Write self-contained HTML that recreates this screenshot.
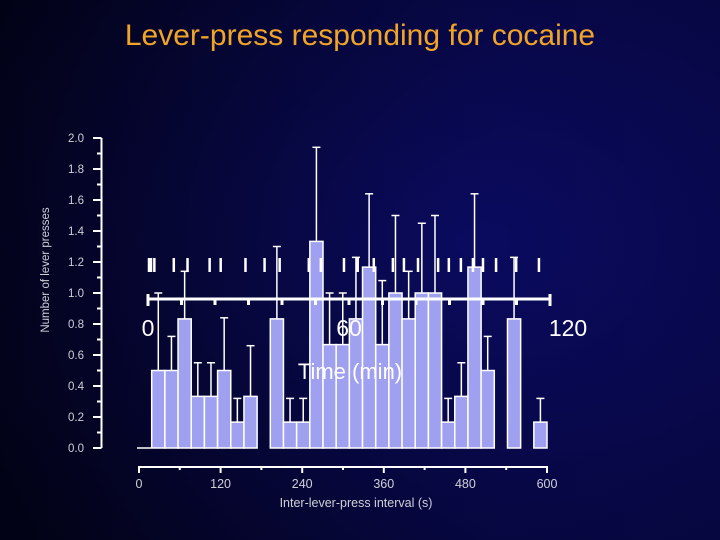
<!DOCTYPE html>
<html><head><meta charset="utf-8"><style>
html,body{margin:0;padding:0;width:720px;height:540px;overflow:hidden}
body{background:linear-gradient(90deg,#04041a 0%,#070738 35%,#0a0a5a 70%,#0b0b62 100%);font-family:"Liberation Sans",sans-serif}
</style></head><body>
<svg id="chart" width="720" height="540" xmlns="http://www.w3.org/2000/svg" style="position:absolute;left:0;top:0">
<defs><radialGradient id="vg" cx="0.65" cy="0.45" r="0.8"><stop offset="0" stop-color="#0b0b66" stop-opacity="0.6"/><stop offset="1" stop-color="#000010" stop-opacity="0.5"/></radialGradient></defs>
<rect width="720" height="540" fill="url(#vg)"/>
<text x="360" y="45" text-anchor="middle" font-size="30" fill="#f0a428">Lever-press responding for cocaine</text>
<text transform="translate(49,270) rotate(-90)" text-anchor="middle" font-size="11.5" fill="#d0d0d8">Number of lever presses</text>
<text x="356" y="507" text-anchor="middle" font-size="12.5" fill="#d0d0d8">Inter-lever-press interval (s)</text>
<g id="yaxis"></g>
<g id="xaxis"></g>
<g id="bars"></g>
<g id="events"></g>
</svg>
<script>
const binValues = [0.5,0.5,0.833,0.333,0.333,0.5,0.167,0.333,0,0.833,0.167,0.167,1.333,0.667,0.667,0.833,1.167,0.667,1.0,0.833,1.0,1.0,0.167,0.333,1.167,0.5,0,0.833,0,0.167];
const errTops = [1.0,0.72,1.14,0.55,0.55,0.84,0.32,0.66,0,1.3,0.32,0.32,1.94,1.0,1.0,1.23,1.64,1.08,1.5,1.14,1.45,1.5,0.32,0.55,1.64,0.72,0,1.23,0,0.32];
const binSize = 20;
const yTicks = ["0.0","0.2","0.4","0.6","0.8","1.0","1.2","1.4","1.6","1.8","2.0"];
const xTicks = [0,120,240,360,480,600];
const eventTimes = [0,0.6,1.6,7.4,11.5,18.1,21.4,28.8,34.5,39,47.7,51.3,58.2,62.3,67.1,72.8,76.1,80.3,86.3,89.5,93.1,96.7,99.7,103.6,109.6,116.4];
const eventLabels = [0,60,120];

const NS="http://www.w3.org/2000/svg";
function mk(tag,attrs,parent){const e=document.createElementNS(NS,tag);for(const k in attrs)e.setAttribute(k,attrs[k]);parent.appendChild(e);return e;}
const y=v=>448-155*v;
const xb=s=>151.7+s*395.3/600;
const xa=s=>139+s*408/600;
const xt=m=>148+m*(550-148)/120;

const ya=document.getElementById('yaxis');
mk('line',{x1:101.5,y1:y(0),x2:101.5,y2:y(2),stroke:'#fff','stroke-width':2},ya);
for(let i=0;i<=20;i++){
  const v=i*0.1; const major=i%2===0;
  const t=mk('line',{x1:major?93:97,x2:101.5,y1:y(v),y2:y(v),stroke:'#fff','stroke-width':2},ya);
  
  
}
yTicks.forEach((lab,i)=>{
  const t=mk('text',{x:84,y:y(parseFloat(lab))+4,'text-anchor':'end','font-size':11.5,fill:'#d0d0d8'},ya);
  t.textContent=lab;
  
  
});

const xg=document.getElementById('xaxis');
mk('line',{x1:138,x2:548,y1:467,y2:467,stroke:'#fff','stroke-width':2},xg);
mk('line',{x1:137,x2:151,y1:448,y2:448,stroke:'#fff','stroke-width':1.5},xg);
for(let s=0;s<=600;s+=60){
  const t=mk('line',{x1:xa(s),x2:xa(s),y1:467,y2:s%120===0?473:470,stroke:'#fff','stroke-width':2},xg);
  
  
}
xTicks.forEach(v=>{
  const t=mk('text',{x:xa(v),y:488,'text-anchor':'middle','font-size':12.5,fill:'#d0d0d8'},xg);
  t.textContent=String(v);
  
  
});

const bg=document.getElementById('bars');
binValues.forEach((v,i)=>{
  if(v<=0) return;
  const x0=xb(i*binSize), x1=xb((i+1)*binSize);
  const r=mk('rect',{x:x0,y:y(v),width:x1-x0,height:y(0)-y(v),fill:'#a0a0f0',stroke:'#fff','stroke-width':1.5},bg);
  
  
  const e=errTops[i];
  if(e>v){
    const cx=(x0+x1)/2;
    const l=mk('line',{x1:cx,x2:cx,y1:y(v),y2:y(e),stroke:'#fff','stroke-width':1.5},bg);
    
    
    const c=mk('line',{x1:cx-4,x2:cx+4,y1:y(e),y2:y(e),stroke:'#fff','stroke-width':1.5},bg);
    
    
  }
});

const eg=document.getElementById('events');
mk('line',{x1:148,x2:550,y1:299,y2:299,stroke:'#fff','stroke-width':3},eg);
mk('line',{x1:148,x2:148,y1:294,y2:306,stroke:'#fff','stroke-width':3},eg);
mk('line',{x1:550,x2:550,y1:294,y2:306,stroke:'#fff','stroke-width':3},eg);
for(let m=10;m<120;m+=10){
  const t=mk('line',{x1:xt(m),x2:xt(m),y1:299,y2:305,stroke:'#fff','stroke-width':3},eg);
  
  
}
eventTimes.forEach(m=>{
  const t=mk('line',{x1:xt(m)+1,x2:xt(m)+1,y1:258,y2:272,stroke:'#fff','stroke-width':2.5},eg);
  
  
});
eventLabels.forEach(m=>{
  const t=mk('text',{x:xt(m)+(m===120?18:0),y:336,'text-anchor':'middle','font-size':23,fill:'#fff'},eg);
  t.textContent=String(m);
  
  
});
const tt=mk('text',{x:350,y:379,'text-anchor':'middle','font-size':22,fill:'#fff'},eg);
tt.textContent='Time (min)';


</script>
</body></html>
